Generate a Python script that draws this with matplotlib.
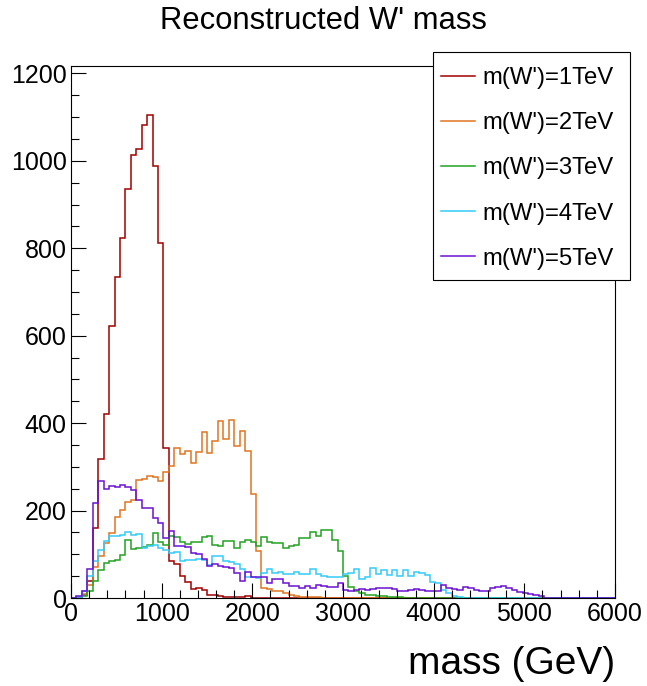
import numpy as np
import matplotlib
matplotlib.use('Agg')
import matplotlib.pyplot as plt
from matplotlib.patches import Rectangle

plt.rcParams['font.family'] = ['Liberation Sans', 'DejaVu Sans']

# Histogram binning: 100 bins from 0 to 6000 GeV
nbins = 100
xmin, xmax = 0, 6000

labels = ["m(W')=1TeV", "m(W')=2TeV", "m(W')=3TeV", "m(W')=4TeV", "m(W')=5TeV"]
colors = ['#a00000', '#e07520', '#22a322', '#33ccf8', '#6a12d2']

# bin contents (60 GeV bins)
h_1tev = [0, 3, 8, 40, 160, 318, 421, 623, 734, 824,
          936, 1014, 1027, 1081, 1104, 988, 812, 344, 85, 78,
          50, 37, 20, 22, 18, 8, 8, 5, 3, 3,
          2, 2, 5, 1, 1, 1, 0, 1, 0, 0] + [0] * 60
h_2tev = [0, 2, 10, 30, 70, 95, 125, 148, 186, 202,
          220, 224, 270, 272, 280, 276, 268, 289, 303, 344,
          329, 337, 308, 335, 379, 331, 360, 404, 363, 407,
          348, 383, 337, 238, 108, 22, 20, 15, 15, 11,
          8, 5, 3, 3, 2, 2, 1, 1, 1, 1] + [0] * 50
h_3tev = [0, 2, 5, 15, 40, 65, 79, 85, 88, 98,
          133, 112, 114, 117, 121, 148, 127, 121, 142, 140,
          129, 124, 127, 127, 140, 142, 121, 118, 131, 131,
          114, 129, 133, 129, 118, 140, 129, 125, 125, 115,
          120, 121, 137, 137, 150, 142, 156, 156, 133, 108,
          50, 26, 15, 11, 8, 7, 5, 5, 3, 2,
          2, 1, 1, 1, 1, 1, 0, 1, 0, 0] + [0] * 30
h_4tev = [0, 3, 15, 50, 85, 110, 130, 142, 142, 145,
          150, 145, 146, 115, 118, 122, 115, 110, 102, 106,
          85, 87, 87, 89, 88, 76, 96, 96, 85, 83,
          77, 66, 49, 47, 45, 58, 66, 58, 60, 55,
          55, 60, 55, 55, 66, 54, 50, 49, 47, 49,
          56, 58, 66, 43, 49, 69, 56, 64, 53, 63,
          51, 64, 51, 60, 58, 53, 37, 34, 18, 11,
          5, 2, 1, 1] + [0] * 26
h_5tev = [0, 5, 17, 66, 217, 268, 249, 256, 253, 259,
          253, 247, 225, 207, 205, 182, 171, 137, 154, 119,
          119, 117, 102, 100, 89, 73, 78, 73, 72, 68,
          58, 40, 60, 49, 47, 48, 35, 43, 43, 35,
          27, 27, 24, 27, 24, 30, 27, 26, 26, 35,
          18, 16, 18, 20, 18, 20, 22, 22, 22, 20,
          15, 16, 18, 21, 18, 15, 16, 15, 30, 22,
          20, 18, 26, 22, 18, 16, 16, 22, 26, 27,
          22, 18, 13, 11, 9, 6, 4, 1] + [0] * 12

hists = [h_1tev, h_2tev, h_3tev, h_4tev, h_5tev]
edges = np.linspace(xmin, xmax, nbins + 1)

W, H = 647, 686
fig = plt.figure(figsize=(W / 100, H / 100), dpi=100)
ax = fig.add_axes([71 / W, 88 / H, 544 / W, 531.6 / H])

for h, c, lab in zip(hists, colors, labels):
    ax.stairs(h, edges, baseline=0, color=c, lw=1.1, label=lab)

ax.set_xlim(xmin, xmax)
ax.set_ylim(0, 1216)
ax.set_xticks(np.arange(0, 6001, 1000))
ax.set_xticks(np.arange(0, 6001, 200), minor=True)
ax.set_yticks(np.arange(0, 1201, 200))
ax.set_yticks(np.arange(0, 1201, 50), minor=True)
ax.tick_params(which='both', direction='in', top=False, right=False,
               labelsize=18, width=0.8, pad=3)
ax.tick_params(which='major', length=11)
ax.tick_params(which='minor', length=5.5)
for sp in ax.spines.values():
    sp.set_linewidth(0.8)

# title and axis label, ROOT style
fig.text(0.5, 1 - 21 / H, "Reconstructed W' mass", ha='center', va='center', fontsize=22.3)
fig.text(615 / W, 1 - 664 / H, 'mass (GeV)', ha='right', va='center', fontsize=28)

# legend box (x 433-630, y 52-280 px), drawn separately from the entries
box = Rectangle((433 / W, 1 - 280 / H), 197 / W, 228 / H, transform=fig.transFigure,
                facecolor='white', edgecolor='black', lw=0.8, zorder=5, clip_on=False)
ax.add_patch(box)
leg = ax.legend(loc='upper left', bbox_to_anchor=(441 / W, 1 - 67 / H),
                bbox_transform=fig.transFigure, borderaxespad=0, borderpad=0,
                fontsize=17.2, handlelength=1.42, handletextpad=0.33,
                labelspacing=0.97, frameon=False)
leg.set_zorder(6)

fig.savefig('out.png', dpi=100)
